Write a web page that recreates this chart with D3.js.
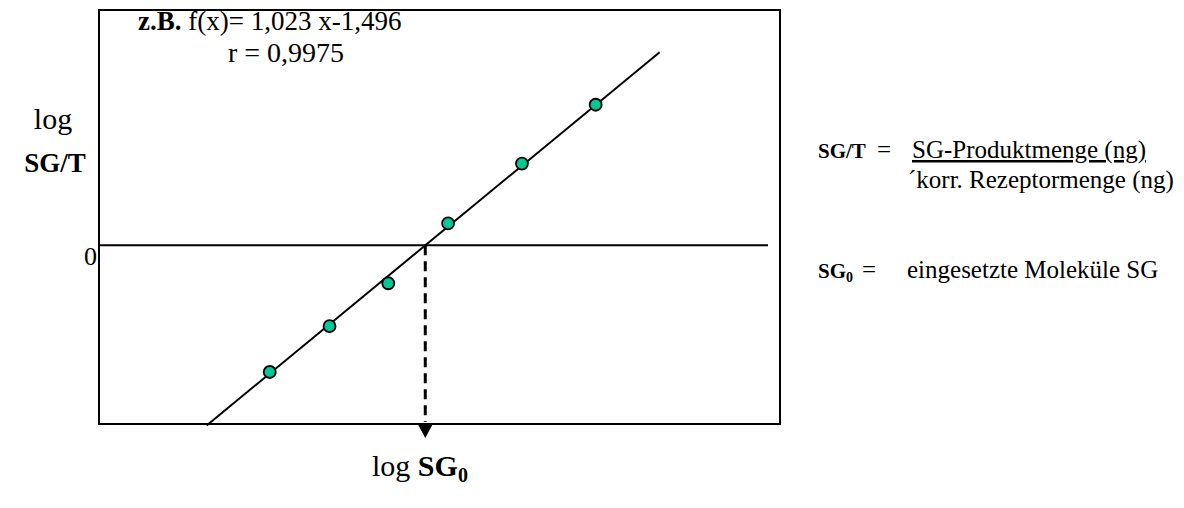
<!DOCTYPE html>
<html><head><meta charset="utf-8">
<script src="https://cdn.jsdelivr.net/npm/d3@7"></script>
<style>body{margin:0;background:#fff;} svg text{font-family:"Liberation Serif","Times New Roman",serif;}</style>
</head><body>
<svg id="c" width="1184" height="508"></svg>
<script>
// data (log SG0, log SG/T)
const logSG0 = [0.422, 0.822, 1.215, 1.615, 2.109, 2.602];
const logSGT = [-1.052, -0.671, -0.315, 0.182, 0.679, 1.168];
const slope = 1.023, intercept = -1.496, r = 0.9975;
const fitRange = [0.0, 3.03];
const yTicks = [0];

const svg = d3.select("#c");
const x = d3.scaleLinear().domain([-0.72, 3.835]).range([99, 780]);
const y = d3.scaleLinear().domain([-1.484, 1.955]).range([424, 10]);
const x0 = -intercept / slope;
const de = v => v.toFixed(3).replace(".", ",");

// frame
svg.append("rect").attr("x", x.range()[0]).attr("y", y.range()[1])
  .attr("width", x.range()[1]-x.range()[0]).attr("height", y.range()[0]-y.range()[1])
  .attr("fill","none").attr("stroke","#000").attr("stroke-width",2);

// zero line
svg.append("line").attr("x1", x.range()[0]).attr("x2", 768)
  .attr("y1", y(0)).attr("y2", y(0)).attr("stroke","#000").attr("stroke-width",2);
svg.selectAll(".yt").data(yTicks).join("text").attr("x", 97).attr("y", d=>y(d)+20)
  .attr("text-anchor","end").attr("font-size",26).text(d=>d);

// fit line
svg.append("line").attr("x1", x(fitRange[0])).attr("y1", y(slope*fitRange[0]+intercept))
  .attr("x2", x(fitRange[1])).attr("y2", y(slope*fitRange[1]+intercept))
  .attr("stroke","#000").attr("stroke-width",2);

// dashed drop line + arrow
svg.append("line").attr("x1", x(x0)).attr("x2", x(x0)).attr("y1", y(0)).attr("y2", 422)
  .attr("stroke","#000").attr("stroke-width",3).attr("stroke-dasharray","10,6");
svg.append("path").attr("d", `M${x(x0)-7},425 L${x(x0)+7},425 L${x(x0)},438 Z`).attr("fill","#000");

// points
svg.selectAll(".pt").data(logSG0.map((d,i)=>[d,logSGT[i]])).join("circle")
  .attr("cx", d=>x(d[0])).attr("cy", d=>y(d[1])).attr("r", 6)
  .attr("fill","#00c896").attr("stroke","#000").attr("stroke-width",1.8);

// equation
const eq = svg.append("text").attr("x",138).attr("y",30).attr("font-size",27);
eq.append("tspan").attr("font-weight","bold").text("z.B.");
eq.append("tspan").text(" f(x)= " + de(slope) + " x" + de(intercept));
svg.append("text").attr("x",228).attr("y",62).attr("font-size",28).text("r = " + String(r).replace(".",","));

// y label
svg.append("text").attr("x",53).attr("y",129).attr("text-anchor","middle").attr("font-size",30).text("log");
svg.append("text").attr("x",55).attr("y",172).attr("text-anchor","middle").attr("font-size",27).attr("font-weight","bold").text("SG/T");

// x label
const xl = svg.append("text").attr("x",372).attr("y",476).attr("font-size",30);
xl.append("tspan").text("log ");
xl.append("tspan").attr("font-weight","bold").text("SG");
xl.append("tspan").attr("font-weight","bold").attr("font-size",20).attr("dy",6).text("0");

// legend right
svg.append("text").attr("x",818).attr("y",158).attr("font-size",21).attr("font-weight","bold").text("SG/T");
svg.append("text").attr("x",877).attr("y",158).attr("font-size",25).text("=");
svg.append("text").attr("x",912).attr("y",158).attr("font-size",25).attr("text-decoration","underline").text("SG-Produktmenge (ng)");
svg.append("text").attr("x",908).attr("y",188).attr("font-size",25).text("´korr. Rezeptormenge (ng)");

const l2 = svg.append("text").attr("x",818).attr("y",278).attr("font-size",21).attr("font-weight","bold");
l2.append("tspan").text("SG");
l2.append("tspan").attr("font-size",14).attr("dy",4).text("0");
svg.append("text").attr("x",862).attr("y",278).attr("font-size",25).text("=");
svg.append("text").attr("x",907).attr("y",278).attr("font-size",25).text("eingesetzte Moleküle SG");
</script>
</body></html>
